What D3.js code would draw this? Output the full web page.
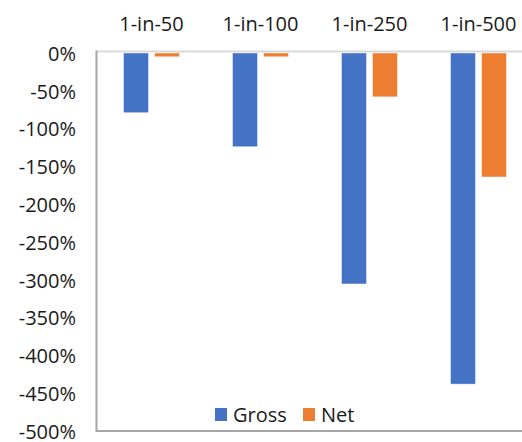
<!DOCTYPE html>
<html><head><meta charset="utf-8">
<script src="https://cdn.jsdelivr.net/npm/d3@7"></script>
<style>html,body{margin:0;padding:0;background:#fff;overflow:hidden}</style>
</head><body>
<svg id="c" width="522" height="442"></svg>
<script>
const categories = ["1-in-50", "1-in-100", "1-in-250", "1-in-500"];
const seriesNames = ["Gross", "Net"];
const grossValues = [-0.79, -1.24, -3.055, -4.38];
const netValues = [-0.05, -0.05, -0.58, -1.64];
const yTicks = [0, -0.5, -1, -1.5, -2, -2.5, -3, -3.5, -4, -4.5, -5];
const colors = ["#4472C4", "#ED7D31"];

(function () {
const svg = d3.select("#c");
const font = "'Open Sans', 'Noto Sans', sans-serif";
const fs = 20;
const txt = "#1a1a1a";
const mLeft = 97, mTop = 53, mBottom = 431, mRight = 533;

const y = d3.scaleLinear().domain([0, -5]).range([mTop, mBottom]);
const x0 = d3.scaleBand().domain(categories).range([mLeft, mRight]).padding(0);
const x1 = d3.scaleBand().domain(seriesNames).range([26.5, 82.5]).paddingInner(0.194).paddingOuter(0);

const data = categories.map((c, i) => ({cat: c, vals: [grossValues[i], netValues[i]]}));

const g = svg.append("g");
data.forEach(d => {
  d.vals.forEach((v, j) => {
    g.append("rect")
      .attr("x", x0(d.cat) + x1(seriesNames[j]))
      .attr("y", y(0))
      .attr("width", x1.bandwidth())
      .attr("height", y(v) - y(0))
      .attr("fill", colors[j])
      .attr("stroke", "#fff").attr("stroke-width", 0.75).attr("stroke-opacity", 0.6);
  });
});

svg.append("line").attr("x1", mLeft).attr("x2", 522).attr("y1", y(0) - 1.5).attr("y2", y(0) - 1.5)
  .attr("stroke", "#d9d9d9").attr("stroke-width", 2);
svg.append("line").attr("x1", mLeft - 0.5).attr("x2", mLeft - 0.5).attr("y1", y(0) - 2.5).attr("y2", mBottom)
  .attr("stroke", "#a6a6a6").attr("stroke-width", 2);
svg.append("line").attr("x1", mLeft - 1.5).attr("x2", 522).attr("y1", mBottom).attr("y2", mBottom)
  .attr("stroke", "#a6a6a6").attr("stroke-width", 2);

const yAxis = d3.axisLeft(y).tickValues(yTicks).tickSize(0).tickPadding(21)
  .tickFormat(d => Math.round(d * 100) + "%");
const ya = svg.append("g").attr("transform", `translate(${mLeft},0)`).call(yAxis);
ya.select(".domain").remove();
ya.selectAll("text").attr("font-family", font).attr("font-size", fs).attr("fill", txt).attr("dy", "0.36em");

const xAxis = d3.axisTop(x0).tickSize(0).tickPadding(0);
const xa = svg.append("g").attr("transform", `translate(0,31)`).call(xAxis);
xa.select(".domain").remove();
xa.selectAll("text").attr("font-family", font).attr("font-size", fs).attr("fill", txt).attr("dy", 0);

const legendX = [215, 303];
seriesNames.forEach((s, j) => {
  svg.append("rect").attr("x", legendX[j]).attr("y", 408).attr("width", 12).attr("height", 13).attr("fill", colors[j]);
  svg.append("text").attr("x", legendX[j] + 18).attr("y", 422).text(s)
    .attr("font-family", font).attr("font-size", fs).attr("fill", txt);
});
})();
</script>
</body></html>
